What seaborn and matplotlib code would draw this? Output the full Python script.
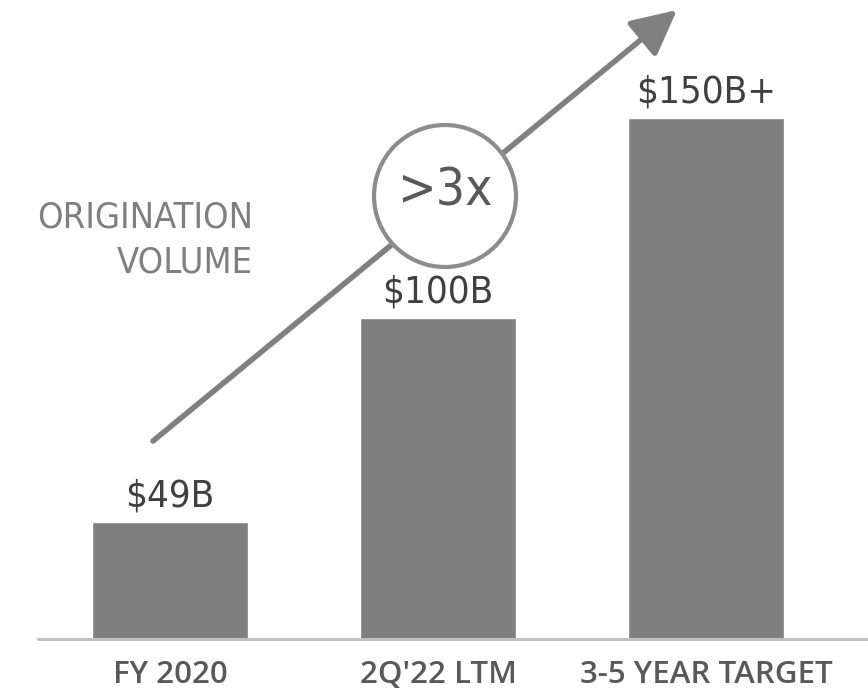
import matplotlib
matplotlib.use("Agg")
import matplotlib.pyplot as plt
from matplotlib.patches import Circle
import pandas as pd
import seaborn as sns

# chart values
categories = ["FY 2020", "2Q'22 LTM", "3-5 YEAR TARGET"]
volumes = [49, 100, 150]
value_labels = ["$49B", "$100B", "$150B+"]
side_title = "ORIGINATION\nVOLUME"
growth_label = ">3x"

BAR_COLOR = "#7f7f7f"
LINE_COLOR = "#808080"
VALUE_COLOR = "#404040"
CAT_COLOR = "#595959"

sns.set_theme(style="white")
plt.rcParams["font.family"] = ["Open Sans", "DejaVu Sans"]

df = pd.DataFrame({"category": categories, "volume": volumes})

fig = plt.figure(figsize=(8.68, 6.99), dpi=100)
# axes bottom = the baseline of the slide
ax = fig.add_axes([0, 60 / 699, 1, 639 / 699])
sns.barplot(data=df, x="category", y="volume", color=BAR_COLOR, width=0.582,
            saturation=1, ax=ax)

# slide scale: baseline sits above zero, 4 px per $1B
base = 19.75
ax.set_xlim(-0.634, 2.604)
ax.set_ylim(base, 179.5)
ax.set_axis_off()

ax.axhline(base, xmin=38 / 868, xmax=1, color="#c0c0c0", lw=2.2, zorder=3,
           clip_on=False)

cond = dict(family="DejaVu Sans", fontstretch="condensed")
for i, (v, lab) in enumerate(zip(volumes, value_labels)):
    ax.annotate(lab, (i, v), xytext=(0, 7), textcoords="offset pixels",
                ha="center", va="bottom", fontsize=27.5, color=VALUE_COLOR,
                annotation_clip=False, **cond)
    ax.annotate(categories[i], (i, base), xytext=(0, -36), textcoords="offset pixels",
                ha="center", va="center", fontsize=22.5, fontweight="semibold",
                color=CAT_COLOR, annotation_clip=False)

# side label
fig.text(253 / 868, 1 - 240 / 699, side_title, ha="right", va="center",
         fontsize=26, color="#7f7f7f", fontweight="light", linespacing=1.4,
         **cond)

# growth arrow
ax.annotate("", xy=(677, 699 - 10), xycoords="figure pixels",
            xytext=(153, 699 - 441), textcoords="figure pixels",
            arrowprops=dict(arrowstyle="-|>,head_length=2.3,head_width=1.15",
                            color=LINE_COLOR, lw=4, shrinkA=0, shrinkB=0),
            zorder=4, annotation_clip=False)

circ = Circle((4.45, (699 - 196) / 100), 0.71, transform=fig.dpi_scale_trans,
              facecolor="white", edgecolor="#8c8c8c", lw=3, zorder=5)
fig.patches.append(circ)
fig.text(445 / 868, 1 - 192 / 699, growth_label, ha="center", va="center",
         fontsize=37, color=CAT_COLOR, zorder=6, **cond)

fig.savefig("out.png", dpi=100)
